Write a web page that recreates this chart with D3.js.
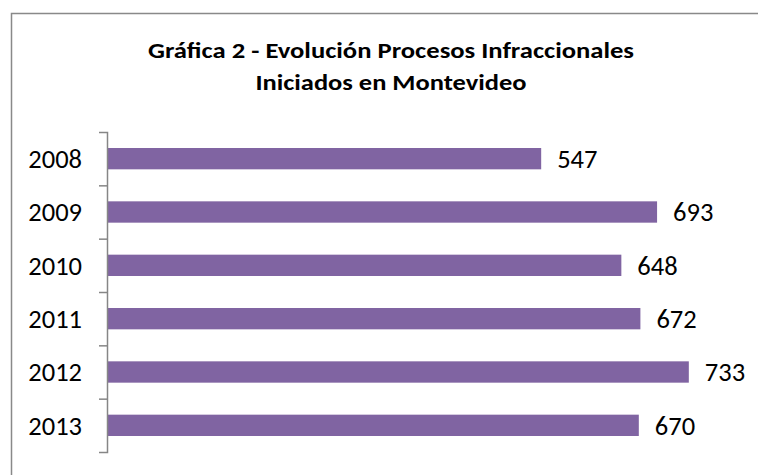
<!DOCTYPE html>
<html>
<head>
<meta charset="utf-8">
<script src="https://cdn.jsdelivr.net/npm/d3@7"></script>
<style>
  body { margin: 0; background: #fff; }
  svg { display: block; font-family: Calibri, Carlito, "Liberation Sans", Arial, sans-serif; }
</style>
</head>
<body>
<svg id="chart" width="758" height="475"></svg>
<script>
// data
var years = ["2008", "2009", "2010", "2011", "2012", "2013"];
var procesos = [547, 693, 648, 672, 733, 670];
var titleLines = ["Gráfica 2 - Evolución Procesos Infraccionales", "Iniciados en Montevideo"];

var svg = d3.select("#chart");

// chart frame (runs off the right / bottom edge)
svg.append("rect")
    .attr("x", 11.5).attr("y", 13.5)
    .attr("width", 800).attr("height", 500)
    .attr("fill", "#fff")
    .attr("stroke", "#898989")
    .attr("stroke-width", 1.5);

// title
var titleWidths = [486, 271];
svg.selectAll("text.title")
    .data(titleLines)
    .enter()
    .append("text")
    .attr("class", "title")
    .attr("x", 391)
    .attr("y", function (d, i) { return 58 + i * 32; })
    .attr("text-anchor", "middle")
    .attr("font-size", 22)
    .attr("font-weight", "bold")
    .attr("fill", "#000")
    .attr("textLength", function (d, i) { return titleWidths[i]; })
    .attr("lengthAdjust", "spacingAndGlyphs")
    .text(function (d) { return d; });

var x = d3.scaleLinear().domain([0, 800]).range([107, 742]);
var y = d3.scaleBand().domain(years).range([132, 452])
    .paddingInner(0.6).paddingOuter(0.3);

// bars
var data = years.map(function (d, i) { return { year: d, value: procesos[i] }; });
svg.selectAll("rect.bar")
    .data(data)
    .enter()
    .append("rect")
    .attr("class", "bar")
    .attr("x", x(0))
    .attr("y", function (d) { return y(d.year); })
    .attr("width", function (d) { return x(d.value) - x(0); })
    .attr("height", y.bandwidth())
    .attr("fill", "#8064a2");

// axis: bracket style with ticks between categories
var yTicks = d3.scaleLinear().domain([0, years.length]).range([132, 452]);
var axis = svg.append("g")
    .attr("transform", "translate(" + x(0) + ",0)")
    .call(d3.axisLeft(yTicks)
        .tickValues(d3.range(1, years.length))
        .tickSizeInner(8)
        .tickSizeOuter(8)
        .tickFormat(""));
axis.selectAll("path, line")
    .attr("stroke", "#868686")
    .attr("stroke-width", 1.5);

// category labels
svg.selectAll("text.cat")
    .data(data)
    .enter()
    .append("text")
    .attr("class", "cat")
    .attr("x", 82)
    .attr("y", function (d) { return y(d.year) + y.bandwidth() / 2; })
    .attr("dy", "0.35em")
    .attr("text-anchor", "end")
    .attr("font-size", 26.5)
    .attr("fill", "#000")
    .text(function (d) { return d.year; });

// value labels
svg.selectAll("text.val")
    .data(data)
    .enter()
    .append("text")
    .attr("class", "val")
    .attr("x", function (d) { return x(d.value) + 16; })
    .attr("y", function (d) { return y(d.year) + y.bandwidth() / 2; })
    .attr("dy", "0.35em")
    .attr("font-size", 26.5)
    .attr("fill", "#000")
    .text(function (d) { return d.value; });
</script>
</body>
</html>
